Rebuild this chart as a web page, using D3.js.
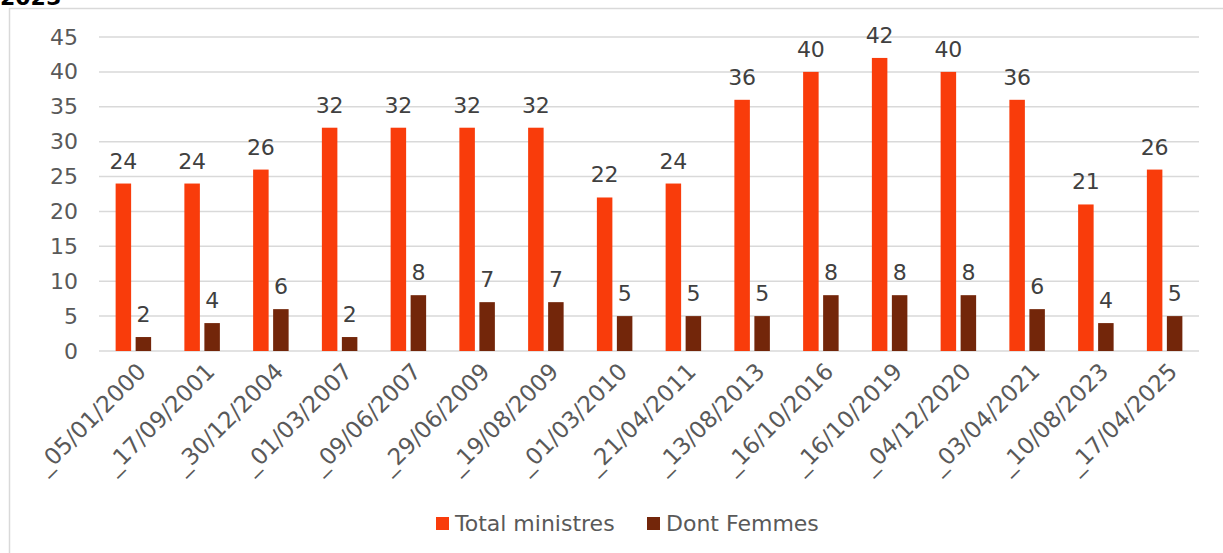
<!DOCTYPE html>
<html>
<head>
<meta charset="utf-8">
<script src="https://cdn.jsdelivr.net/npm/d3@7"></script>
<style>
  body { margin: 0; background: #fff; }
  svg { display: block; }
  text { font-family: "DejaVu Sans", Verdana, sans-serif; }
</style>
</head>
<body>
<svg width="1223" height="553"></svg>
<script>
// data
const dates = ["_05/01/2000", "_17/09/2001", "_30/12/2004", "_01/03/2007", "_09/06/2007",
  "_29/06/2009", "_19/08/2009", "_01/03/2010", "_21/04/2011", "_13/08/2013", "_16/10/2016",
  "_16/10/2019", "_04/12/2020", "_03/04/2021", "_10/08/2023", "_17/04/2025"];
const totalMinistres = [24, 24, 26, 32, 32, 32, 32, 22, 24, 36, 40, 42, 40, 36, 21, 26];
const dontFemmes = [2, 4, 6, 2, 8, 7, 7, 5, 5, 5, 8, 8, 8, 6, 4, 5];
const seriesNames = ["Total ministres", "Dont Femmes"];
const seriesColors = ["#F93C0B", "#73260A"];
const yTicks = [0, 5, 10, 15, 20, 25, 30, 35, 40, 45];

const svg = d3.select("svg");
const textColor = "#595959";

// title, clipped by the top edge as in the original
svg.append("text")
  .attr("x", 0)
  .attr("y", 5)
  .attr("font-size", 22)
  .attr("font-weight", "bold")
  .attr("fill", "#000")
  .text("2025");

// chart frame
svg.append("rect")
  .attr("x", 9.5)
  .attr("y", 8.5)
  .attr("width", 1230)
  .attr("height", 560)
  .attr("fill", "none")
  .attr("stroke", "#d9d9d9")
  .attr("stroke-width", 1.5);

const plot = { left: 99, right: 1199, top: 37, bottom: 351 };

const x = d3.scaleBand()
  .domain(dates)
  .range([plot.left, plot.right]);

const y = d3.scaleLinear()
  .domain([0, 45])
  .range([plot.bottom, plot.top]);

// gridlines
svg.append("g")
  .selectAll("line")
  .data(yTicks)
  .join("line")
  .attr("x1", plot.left)
  .attr("x2", plot.right)
  .attr("y1", d => y(d))
  .attr("y2", d => y(d))
  .attr("stroke", "#d9d9d9")
  .attr("stroke-width", 1.5);

// y axis labels
const yAxis = svg.append("g")
  .attr("transform", `translate(${plot.left - 21},0)`)
  .call(d3.axisLeft(y).tickValues(yTicks).tickSize(0).tickPadding(0));
yAxis.select(".domain").remove();
yAxis.selectAll("text")
  .attr("font-size", 22)
  .attr("fill", textColor)
  .attr("font-family", "DejaVu Sans");

const barW = 15.5;
const gap = 4.5;
const series = [totalMinistres, dontFemmes];

series.forEach((vals, s) => {
  const offset = s === 0 ? -gap / 2 - barW : gap / 2;
  const g = svg.append("g");
  g.selectAll("rect")
    .data(vals)
    .join("rect")
    .attr("x", (d, i) => x(dates[i]) + x.bandwidth() / 2 + offset)
    .attr("y", d => y(d))
    .attr("width", barW)
    .attr("height", d => y(0) - y(d))
    .attr("fill", seriesColors[s]);
  g.selectAll("text")
    .data(vals)
    .join("text")
    .attr("x", (d, i) => x(dates[i]) + x.bandwidth() / 2 + offset + barW / 2)
    .attr("y", d => y(d) - 15)
    .attr("text-anchor", "middle")
    .attr("font-size", 22)
    .attr("fill", "#404040")
    .text(d => d);
});

// rotated category labels
svg.append("g")
  .selectAll("text")
  .data(dates)
  .join("text")
  .attr("transform", d => `translate(${x(d) + x.bandwidth() / 2 + 14},${plot.bottom + 22}) rotate(-45)`)
  .attr("text-anchor", "end")
  .attr("font-size", 23)
  .attr("fill", textColor)
  .text(d => d);

// legend
const legend = svg.append("g").attr("transform", "translate(436,517)");
const legendX = [0, 211];
seriesNames.forEach((name, i) => {
  legend.append("rect")
    .attr("x", legendX[i])
    .attr("y", 0)
    .attr("width", 13)
    .attr("height", 13)
    .attr("fill", seriesColors[i]);
  legend.append("text")
    .attr("x", legendX[i] + 19)
    .attr("y", 14)
    .attr("font-size", 22)
    .attr("fill", textColor)
    .text(name);
});
</script>
</body>
</html>
